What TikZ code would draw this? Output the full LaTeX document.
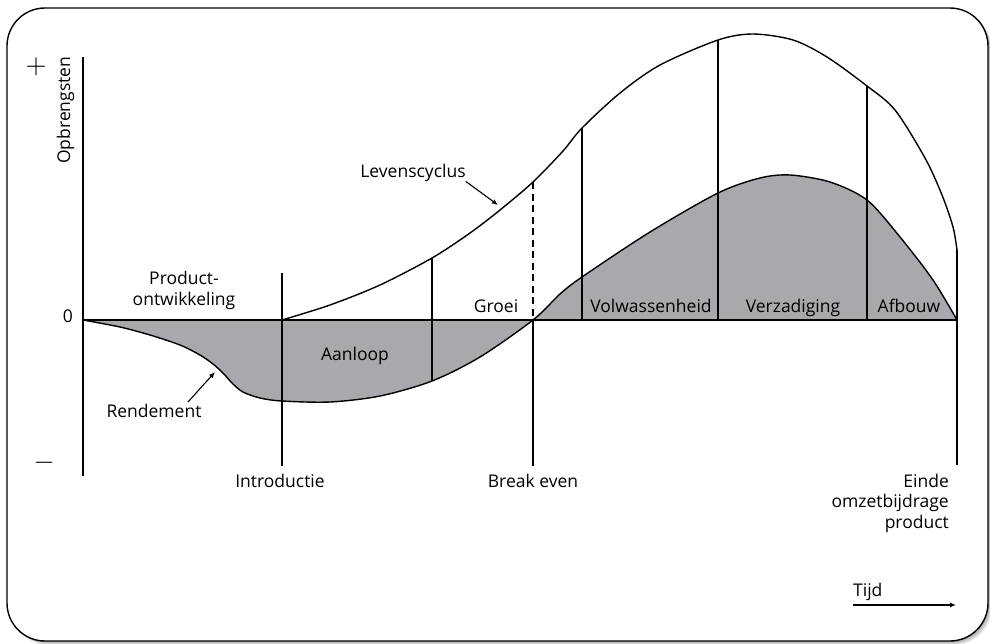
\documentclass[tikz,border=0pt]{standalone}
\usepackage{fontspec}
\setmainfont{Open Sans}
\usetikzlibrary{arrows.meta}
\definecolor{areagray}{RGB}{167,169,172}
\begin{document}
\begin{tikzpicture}[x=1pt, y=-1pt,
  frame/.style={line width=1.4pt, rounded corners=38pt},
  curve/.style={line width=1.4pt, line join=round},
  divider/.style={line width=1.2pt},
  axis/.style={line width=1.3pt},
  lbl/.style={inner sep=0pt, font=\fontsize{17.5}{20.5}\selectfont},
  sign/.style={inner sep=0pt, scale=2.7, font=\fontsize{10}{12}\selectfont},
  pointer/.style={line width=1.1pt, -{Latex[length=6pt,width=5pt]}}]

\useasboundingbox (0,0) rectangle (990,643);

% soft shadow and rounded frame
\foreach \s in {1,...,4}
  \fill[black, opacity=0.09, rounded corners=38pt] (7+\s,8+\s) rectangle (988+\s,641+\s);
\draw[frame, fill=white] (7,8) rectangle (988,641);

% curve points
\def\rendpts{(83,320) (120,327) (150,335) (180,345) (200,355) (213,364) (223,373) (233,384) (243,392) (260,398) (282,401) (330,402) (380,396) (432,381) (480,357) (533,320) (560,294) (582,277) (650,232) (718,193) (760,178) (790,175) (830,182) (867,200) (900,237) (933,280) (957,320)}
\def\lifepts{(282,320) (330,305) (380,285) (432,258) (470,233) (500,210) (533,182) (563,151) (582,128) (620,93) (660,65) (718,40) (753,34) (793,40) (827,57) (867,86) (895,110) (925,158) (942,195) (953,227) (957,250)}

% shaded profit area between zero line and return curve
\fill[areagray] plot[smooth] coordinates {\rendpts} -- cycle;

% axis and zero line
\coordinate (ytop) at (83,57);
\coordinate (ybot) at (83,476);
\coordinate (zero0) at (83,320);
\coordinate (zero1) at (957,320);
\draw[axis] (ytop) -- (ybot);
\draw[curve] (zero0) -- (zero1);

% curves
\draw[curve] plot[smooth] coordinates {\rendpts};
\draw[curve] plot[smooth] coordinates {\lifepts};

% phase dividers
\coordinate (intro0) at (282,273);
\coordinate (intro1) at (282,466);
\coordinate (aan0) at (432,258);
\coordinate (aan1) at (432,381);
\coordinate (be0) at (533,182);
\coordinate (be1) at (533,320);
\coordinate (be2) at (533,466);
\coordinate (vol0) at (582,128);
\coordinate (vol1) at (582,320);
\coordinate (verz0) at (718,40);
\coordinate (verz1) at (718,320);
\coordinate (afb0) at (867,86);
\coordinate (afb1) at (867,320);
\coordinate (end0) at (957,250);
\coordinate (end1) at (957,465);
\draw[divider] (intro0) -- (intro1);
\draw[divider] (aan0) -- (aan1);
\draw[divider, dash pattern=on 7pt off 4.5pt] (be0) -- (be1);
\draw[divider] (be1) -- (be2);
\draw[divider] (vol0) -- (vol1);
\draw[divider] (verz0) -- (verz1);
\draw[divider] (afb0) -- (afb1);
\draw[divider] (end0) -- (end1);

% axis labels
\node[sign] (plus) at (36,67) {$+$};
\node[sign] (minus) at (44,463) {$-$};
\node[lbl, anchor=base west, rotate=90] (opbr) at (70,164) {Opbrengsten};
\node[lbl, anchor=base] (nul) at (68,322) {0};

% phase labels
\node[lbl, anchor=base, align=center] (prod) at (184,305) {Product-\\ontwikkeling};
\node[lbl, anchor=base] (aanloop) at (355,360) {Aanloop};
\node[lbl, anchor=base] (groei) at (496,312) {Groei};
\node[lbl, anchor=base] (volw) at (651,312) {Volwassenheid};
\node[lbl, anchor=base] (verzad) at (793,312) {Verzadiging};
\node[lbl, anchor=base] (afbouw) at (909,312) {Afbouw};

% curve labels with pointers
\node[lbl, anchor=base] (levens) at (413,177) {Levenscyclus};
\coordinate (levtip) at (498,205);
\draw[pointer] (levens.south east) -- (levtip);
\node[lbl, anchor=base] (rend) at (154,417) {Rendement};
\coordinate (rendtail) at (188,402);
\coordinate (rendtip) at (215,372);
\draw[pointer] (rendtail) -- (rendtip);

% moments on the time axis
\node[lbl, anchor=base] (introlbl) at (280,487) {Introductie};
\node[lbl, anchor=base] (belbl) at (533,487) {Break even};
\node[lbl, anchor=base east, align=right] (endlbl) at (949,528) {Einde\\omzetbijdrage\\product};

% time arrow
\node[lbl, anchor=base west] (tijd) at (853,596) {Tijd};
\coordinate (tstart) at (853,605);
\coordinate (tend) at (956,605);
\draw[pointer] (tstart) -- (tend);
\end{tikzpicture}
\end{document}
